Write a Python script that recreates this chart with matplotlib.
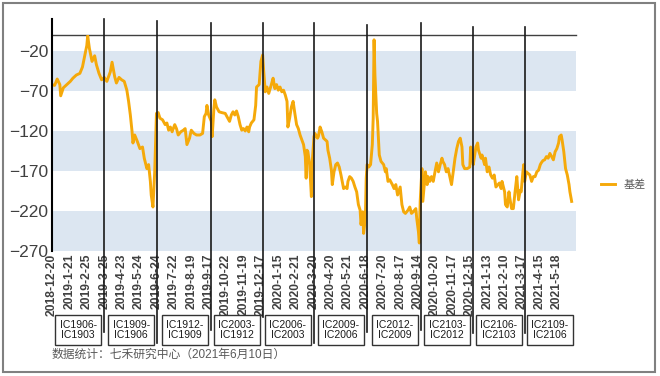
import matplotlib
matplotlib.use('Agg')
import matplotlib.pyplot as plt
from matplotlib.patches import Rectangle

plt.rcParams['font.family'] = ['Liberation Sans', 'Noto Sans CJK SC', 'DejaVu Sans']

# x axis is a trading-day index, one tick label every 20 days
tick_dates = ['2018-12-20', '2019-1-21', '2019-2-25', '2019-3-25', '2019-4-23',
              '2019-5-24', '2019-6-24', '2019-7-22', '2019-8-19', '2019-9-17',
              '2019-10-22', '2019-11-19', '2019-12-17', '2020-1-15', '2020-2-21',
              '2020-3-20', '2020-4-20', '2020-5-21', '2020-6-18', '2020-7-20',
              '2020-8-17', '2020-9-14', '2020-10-20', '2020-11-17', '2020-12-15',
              '2021-1-13', '2021-2-10', '2021-3-17', '2021-4-15', '2021-5-18']

# basis values (day index, value)
day_idx = [0, 3, 6, 9, 10, 13, 17, 21, 24, 28, 32, 35, 37, 40, 41, 43, 46, 49, 51, 54,
           57, 60, 63, 67, 69, 72, 74, 77, 80, 83, 86, 88, 90, 92, 93, 95, 98, 101,
           104, 106, 109, 111, 113, 114, 116, 118, 120, 122, 124, 127, 130, 132, 134,
           136, 138, 141, 143, 145, 148, 151, 153, 155, 158, 160, 163, 166, 170, 173,
           175, 177, 178, 180, 183, 184, 186, 187, 189, 192, 195,
           199, 202, 204, 206, 208, 210, 212, 214, 216, 218, 220, 222, 224, 226, 227,
           229, 232, 234, 235, 238, 240, 242, 243, 245, 247, 249, 252, 254, 256, 258,
           260, 262, 264, 266, 268, 270, 271, 273, 275, 277, 279, 281, 283, 285, 287,
           289, 291, 292, 293, 294, 296, 298, 299, 301, 302, 305,
           306, 308, 310, 312, 314, 316, 317, 319, 321, 322, 324, 326, 328, 330, 332,
           335, 337, 339, 340, 342, 344, 346, 348, 350, 352, 354, 355, 357, 358, 360,
           361, 362, 364, 366, 368, 369, 370, 371, 373, 374, 376, 378, 381, 383, 384,
           386, 388, 391, 393, 395, 397, 400, 402, 404, 406,
           409, 411, 413, 415, 418, 419, 421, 422, 423, 425, 426, 428, 429, 431, 432,
           434, 436, 438, 440, 442, 444, 446, 448, 449, 451, 453, 455, 457, 459, 461,
           463, 465, 467, 469, 471, 472, 474, 477, 480, 481, 483, 484, 487, 489, 490,
           493, 494, 497, 498, 500, 502, 504, 506, 508, 510,
           514, 516, 517, 520, 521, 523, 525, 526, 528, 530, 532, 534, 536, 538, 539,
           541, 542, 543, 545, 547, 549, 551, 553, 555, 557, 559, 561, 562, 564, 566,
           568, 570, 572, 574, 576, 578, 580, 582, 583, 585, 586, 588, 590, 592, 594,
           595, 597]
basis = [-62, -63, -55, -62, -76, -66, -62, -58, -54, -50, -48, -40, -29, -13, -1, -17, -33,
         -26, -37, -48, -56, -53, -58, -46, -34, -52, -60, -53, -56, -58, -69, -83, -100,
         -121, -135, -125, -133, -142,
         -140, -154, -167, -162, -183, -200, -215, -171, -98, -97, -104, -106, -112, -110,
         -119, -115, -121, -112, -117, -125, -121, -119, -117, -137, -129, -119, -123,
         -125, -125, -123, -102, -98, -88, -100, -108, -127, -92, -81, -90, -96, -97,
         -98, -104, -108, -100, -96, -100, -95, -102, -112, -119, -117, -120, -115, -121,
         -115, -110, -106, -88, -65, -62, -33, -25, -42, -71, -65, -73, -62, -54, -67,
         -62, -69, -65, -71, -69, -75, -83, -115, -104, -90, -83, -98, -112, -117, -125,
         -131, -137, -152, -179, -144, -146, -162, -202, -158, -127, -123, -129,
         -127, -115, -121, -129, -131, -133, -144, -154, -169, -187, -171, -162, -160,
         -165, -175, -192, -190, -192, -183, -177, -179, -183, -190, -196, -212, -219,
         -237, -221, -248, -229, -179, -162, -165, -162, -137, -104, -6, -50, -98, -108,
         -150, -158, -162, -171, -167, -183, -181, -187, -192, -187, -200, -190, -212,
         -221, -223,
         -219, -215, -223, -221, -217, -229, -246, -260, -208, -167, -208, -183, -171,
         -187, -177, -183, -177, -183, -171, -160, -171, -162, -154, -158, -162, -171,
         -167, -177, -187, -171, -154, -142, -133, -129, -140, -162, -167, -167, -165,
         -140, -154, -162, -140, -135, -144, -154, -150, -162, -154, -171, -165, -175,
         -179, -175, -190,
         -185, -192, -183, -196, -212, -215, -196, -204, -217, -217, -196, -177, -206,
         -194, -196, -171, -162, -183, -171, -173, -175, -183, -177, -177, -171, -169,
         -162, -160, -157, -156, -152, -154, -148, -152, -156, -146, -142, -135, -127,
         -125, -131, -146, -167, -175, -187, -196, -208]

# contract switch days and the spread labels
switch_idx = [60, 121, 183, 242, 301, 362, 424, 484, 543]
spread_labels = ['IC1906-\nIC1903', 'IC1909-\nIC1906', 'IC1912-\nIC1909',
                 'IC2003-\nIC1912', 'IC2006-\nIC2003', 'IC2009-\nIC2006',
                 'IC2012-\nIC2009', 'IC2103-\nIC2012', 'IC2106-\nIC2103',
                 'IC2109-\nIC2106']

W, H = 660, 376
fig = plt.figure(figsize=(W / 100, H / 100), dpi=100)
ax = fig.add_axes([52 / W, 1 - 251 / H, (576 - 52) / W, (251 - 35) / H])

for lo, hi in [(-70, -20), (-170, -120), (-270, -220)]:
    ax.axhspan(lo, hi, color='#dce6f1', lw=0, zorder=0)

line, = ax.plot(day_idx, basis, color='#f5a90a', lw=2.1, solid_joinstyle='round',
                zorder=3, label='基差')

ax.set_xlim(0, 602)
ax.set_ylim(-270, 0)
ax.set_yticks([-20, -70, -120, -170, -220, -270])
ax.tick_params(axis='y', length=0, pad=2.5, labelsize=12.5, labelcolor='#404040')
ax.set_xticks(range(0, 600, 20))
ax.set_xticklabels(tick_dates, rotation=90, fontsize=8.7, fontweight='bold',
                   color='#404040')
ax.tick_params(axis='x', length=0, pad=2)

for s in ['left', 'right', 'bottom']:
    ax.spines[s].set_visible(False)
ax.spines['top'].set_color('#404040')
ax.spines['top'].set_linewidth(1.0)

# left axis line, sticking out above the plot
ax.plot([0, 0], [20, -270], color='black', lw=1.5, clip_on=False, zorder=4)

tops = [20, 17, 15, 15, 15, 12, 15, 10, 10]
bottoms = [-371, -385, -369, -352, -385, -371, -369, -372, -372]
for xi, t, b in zip(switch_idx, tops, bottoms):
    ax.plot([xi, xi], [t, b], color='#1a1a1a', lw=1.2, clip_on=False, zorder=4)

box_idx = [s - 30 for s in switch_idx] + [572]
for cx, lab in zip(box_idx, spread_labels):
    ax.add_patch(Rectangle((cx - 26.4, -387), 52.8, 37, fill=True, facecolor='white',
                           edgecolor='#333333', lw=1.0, clip_on=False, zorder=5))
    ax.text(cx, -368.5, lab, ha='center', va='center', fontsize=7.5, color='#1a1a1a',
            linespacing=1.0, zorder=6, clip_on=False)

ax.legend(handles=[line], loc='center left', bbox_to_anchor=(601 / W, 1 - 185 / H),
          bbox_transform=fig.transFigure, frameon=False, borderpad=0, borderaxespad=0,
          handlelength=1.25, handletextpad=0.75, fontsize=8, labelcolor='#595959')

fig.text(52 / W, 1 - 355 / H, '数据统计：七禾研究中心（2021年6月10日）', ha='left',
         va='center', fontsize=8.5, color='#595959')

fig.add_artist(Rectangle((3 / W, 4 / H), 652 / W, 369 / H, transform=fig.transFigure,
                         fill=False, edgecolor='#808080', lw=1.5))

fig.savefig('out.png', dpi=100)
